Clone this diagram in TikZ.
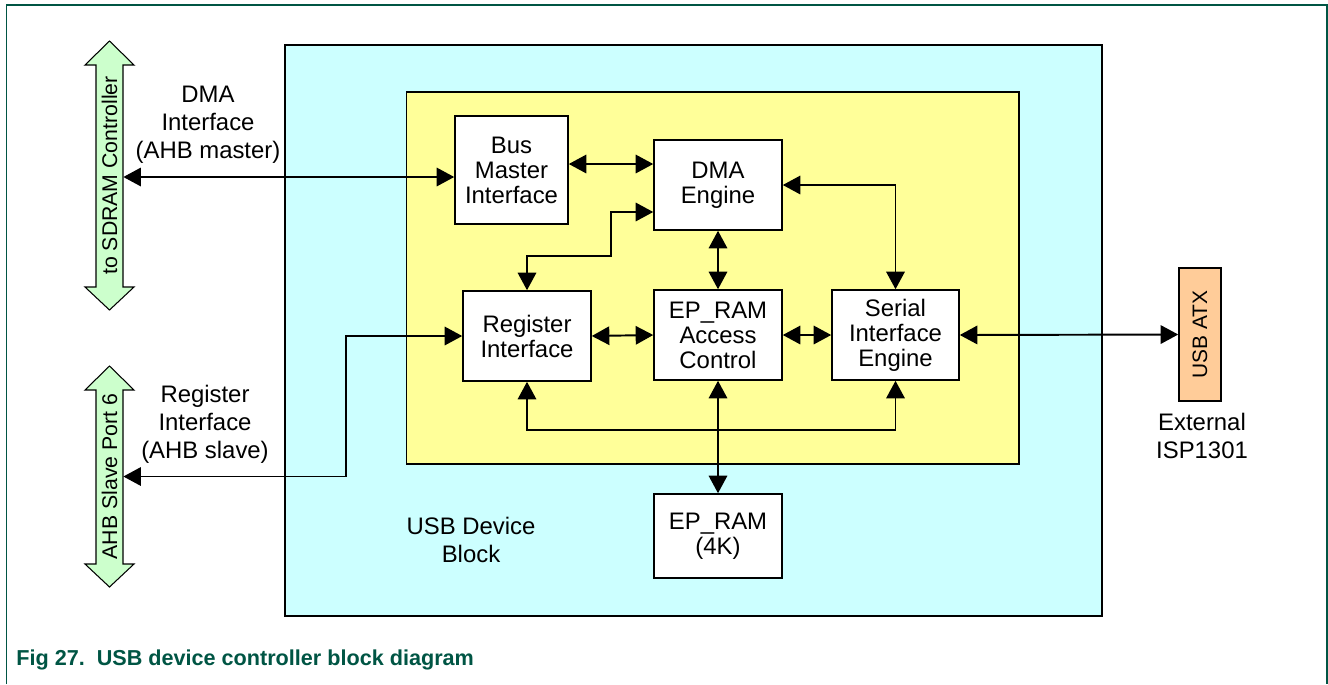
\documentclass[tikz,border=0pt]{standalone}
\usepackage{fontspec}
\setmainfont{Liberation Sans}
\usetikzlibrary{arrows.meta,calc}
\definecolor{devcyan}{HTML}{CCFFFF}
\definecolor{coreyellow}{HTML}{FFFF99}
\definecolor{busgreen}{HTML}{CCFFCC}
\definecolor{atxorange}{HTML}{FFCC99}
\definecolor{nxpgreen}{HTML}{005544}
\def\busarrow(#1:#2){\draw[line width=0.6pt, fill=busgreen] (109.5,#1) -- (134,#1+24) -- (123,#1+24) -- (123,#2-23) -- (134,#2-23) -- (109.5,#2) -- (85,#2-23) -- (96,#2-23) -- (96,#1+24) -- (85,#1+24) -- cycle;}

\begin{document}
\begin{tikzpicture}[x=0.02cm, y=-0.02cm,
		block/.style={draw, line width=0.9pt, fill=white, align=center, inner sep=0pt, minimum width=2.56cm, minimum height=1.8cm, font=\fontsize{13.6}{14.2}\selectfont},
		tag/.style={align=center, inner sep=0pt, font=\fontsize{13.6}{16}\selectfont},
		bustext/.style={rotate=90, inner sep=0pt, minimum height=0.54cm, font=\fontsize{12.1}{14}\selectfont},
		link/.style={line width=1.1pt, {Triangle[length=10pt,width=10.5pt]}-{Triangle[length=10pt,width=10.5pt]}}]
			%%%%% START %%%%%
			
			\useasboundingbox (0,0) rectangle (1328,684);
			\draw[nxpgreen, line width=1.1pt] (6.5,684) -- (6.5,5) -- (1327,5) -- (1327,684);
			
			\draw[line width=0.9pt, fill=devcyan] (285,45) rectangle (1102,616);
			\draw[line width=0.9pt, fill=coreyellow] (406.5,92) rectangle (1019,464);
			
			\busarrow(41:310);
			\busarrow(366:587);
			\node[bustext] (sdram) at (109.5,175.5) {to SDRAM Controller};
			\node[bustext] (ahb) at (109.5,476.5) {AHB Slave Port 6};
			
			\node[block, minimum width=2.26cm, minimum height=2.16cm] (bmi) at (511.5,170) {Bus\\Master\\Interface};
			\node[block] (dma) at (718,185) {DMA\\Engine};
			\node[block] (regif) at (527,336) {Register\\Interface};
			\node[block] (epac) at (718,335) {EP\_RAM\\Access\\Control};
			\node[block, minimum width=2.54cm] (sie) at (895.5,335) {Serial\\Interface\\Engine};
			\node[block, minimum height=1.68cm] (epram) at (718,536) {EP\_RAM\\(4K)};
			\node[block, fill=atxorange, rotate=90, minimum width=2.66cm, minimum height=0.84cm, font=\fontsize{11.9}{14}\selectfont] (atx) at (1200,334.5) {USB ATX};
			
			\node[tag] (dmatag) at (208,124.5) {DMA\\Interface\\(AHB master)};
			\node[tag] (regtag) at (205,424) {Register\\Interface\\(AHB slave)};
			\node[tag] (isptag) at (1202,436) {External\\ISP1301};
			\node[tag] (devtag) at (471,540) {USB Device\\Block};
			
			\coordinate (dmain) at ([yshift=-0.14cm]bmi.west);
			\coordinate (bmiout) at ([yshift=0.12cm]bmi.east);
			\draw[link] (sdram.south |- dmain) -- (dmain);
			\draw[link] (ahb.south) -| ($(regif.west)+(-116,0)$) -- (regif.west);
			\draw[link] (bmiout) -- (bmiout -| dma.west);
			\draw[link] (regif.north) |- ++(84,-34) |- ([yshift=-0.54cm]dma.west);
			\draw[link] (dma.south) -- (epac.north);
			\draw[link] (dma.east) -| (sie.north);
			\draw[link] (regif.east) -- (epac.west);
			\draw[link] (epac.east) -- (sie.west);
			\draw[link] (sie.east) -- (atx.north);
			\draw[link] (regif.south) -- ++(0,48) -| (sie.south);
			\draw[link] (epac.south) -- (epram.north);
			
			\node[anchor=base west, inner sep=0pt, text=nxpgreen, font=\bfseries\fontsize{12.3}{14}\selectfont] (caption) at (16,665) {Fig 27.\ \ USB device controller block diagram};
			
			%%%%% END %%%%%
		\end{tikzpicture}
\end{document}
